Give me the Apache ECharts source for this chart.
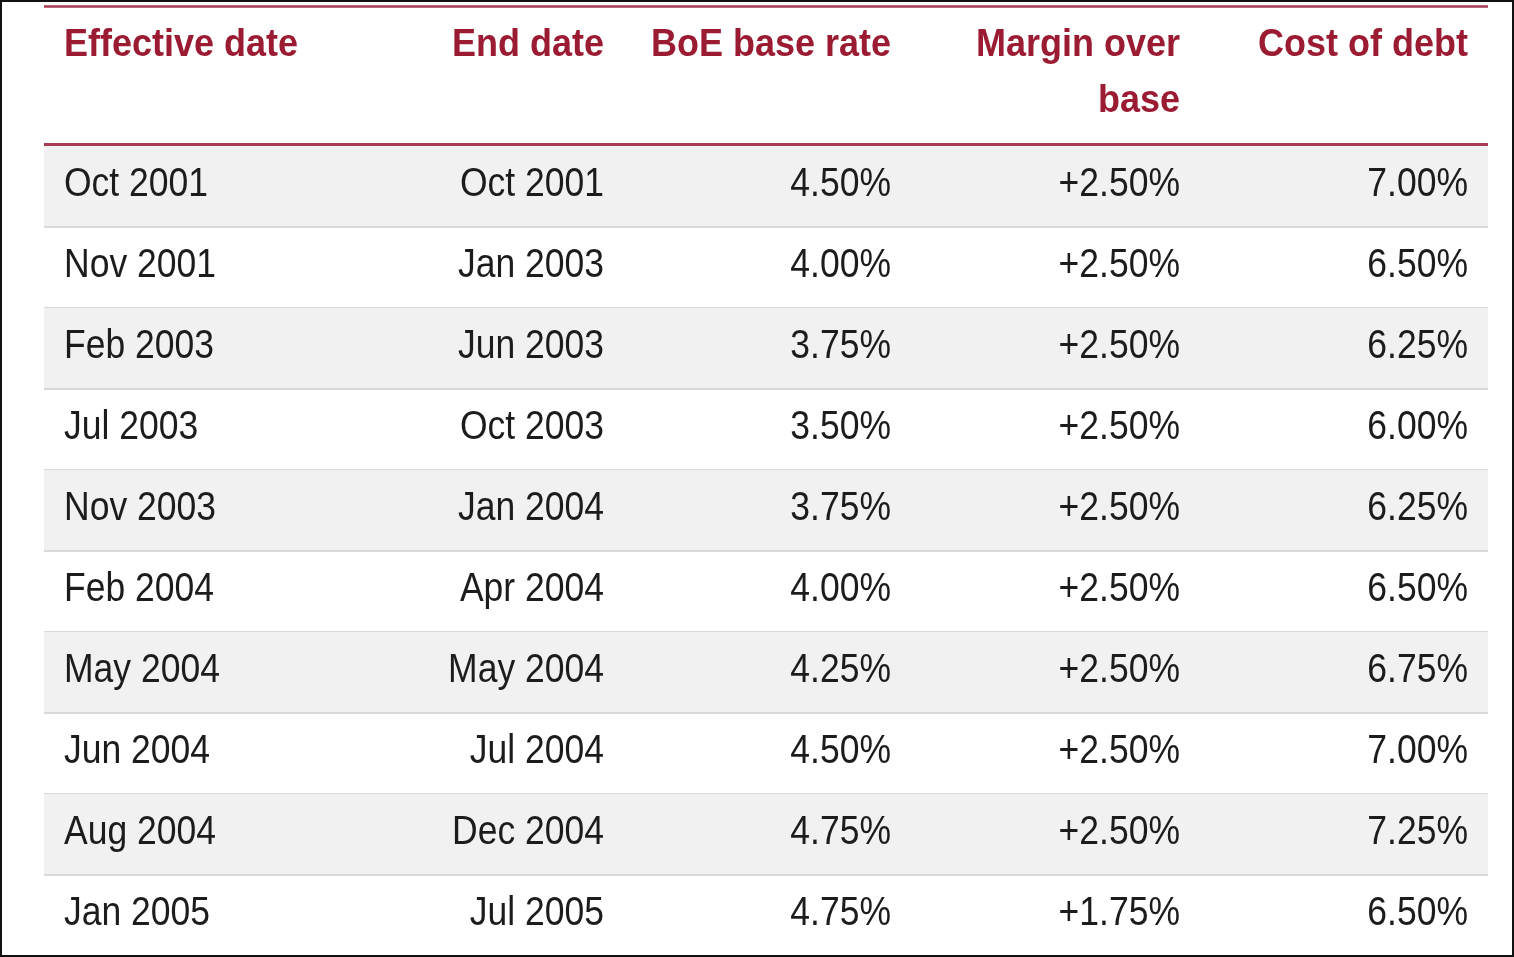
<!DOCTYPE html>
<html>
<head>
<meta charset="utf-8">
<script src="https://cdn.jsdelivr.net/npm/echarts@6/dist/echarts.min.js"></script>
<style>
html,body{margin:0;padding:0;background:#fff;}
#chart{width:1514px;height:957px;}
</style>
</head>
<body>
<div id="chart"></div>
<script>
// ---- data ----
const headers = ['Effective date', 'End date', 'BoE base rate', 'Margin over\nbase', 'Cost of debt'];
const effectiveDates = ['Oct 2001','Nov 2001','Feb 2003','Jul 2003','Nov 2003','Feb 2004','May 2004','Jun 2004','Aug 2004','Jan 2005'];
const endDates = ['Oct 2001','Jan 2003','Jun 2003','Oct 2003','Jan 2004','Apr 2004','May 2004','Jul 2004','Dec 2004','Jul 2005'];
const baseRates = [4.50, 4.00, 3.75, 3.50, 3.75, 4.00, 4.25, 4.50, 4.75, 4.75];
const margins = [2.50, 2.50, 2.50, 2.50, 2.50, 2.50, 2.50, 2.50, 2.50, 1.75];
const costs = [7.00, 6.50, 6.25, 6.00, 6.25, 6.50, 6.75, 7.00, 7.25, 6.50];

// ---- layout/style ----
const FONT = '"Liberation Sans", Arial, sans-serif';
const HEAD_COLOR = '#9b1b32';
const RULE_COLOR = '#a83a53';
const BODY_COLOR = '#1c1c1c';
const GRID_LEFT = 44, GRID_RIGHT = 1488, GRID_TOP = 146, ROW_H = 81;
// column anchors (offsets from grid left) and alignments
const colX = [20, 560, 847, 1136, 1424];
const colAlign = ['left', 'right', 'right', 'right', 'right'];
const BODY_SIZE = 35.5, BODY_SCALE = 1.14;
const HEAD_SIZE = 36, HEAD_SCALE = 1.06;

const pct = v => v.toFixed(2) + '%';
const rowCells = i => [effectiveDates[i], endDates[i], pct(baseRates[i]), '+' + pct(margins[i]), pct(costs[i])];

const chart = echarts.init(document.getElementById('chart'), null, {renderer: 'canvas'});

const headerGraphics = [];
headers.forEach((h, c) => {
  h.split('\n').forEach((line, k) => {
    headerGraphics.push({
      type: 'text',
      x: GRID_LEFT + colX[c],
      y: 45 + k * 56,
      scaleY: HEAD_SCALE,
      style: {
        text: line, x: 0, y: 0,
        align: colAlign[c], verticalAlign: 'middle',
        fontFamily: FONT, fontSize: HEAD_SIZE, fontWeight: 'bold',
        fill: HEAD_COLOR
      }
    });
  });
});

const option = {
  animation: false,
  backgroundColor: '#ffffff',
  grid: {left: GRID_LEFT, right: 1514 - GRID_RIGHT, top: GRID_TOP, height: ROW_H * effectiveDates.length},
  xAxis: {type: 'value', min: 0, max: 1, show: false},
  yAxis: {type: 'category', data: effectiveDates, inverse: true, show: false, boundaryGap: true},
  graphic: [
    {type: 'rect', shape: {x: 1, y: 1, width: 1512, height: 955}, style: {fill: 'none', stroke: '#111', lineWidth: 2}, z: 100},
    {type: 'line', shape: {x1: GRID_LEFT, y1: 6.5, x2: GRID_RIGHT, y2: 6.5}, style: {stroke: RULE_COLOR, lineWidth: 2.5}},
    {type: 'line', shape: {x1: GRID_LEFT, y1: 144.5, x2: GRID_RIGHT, y2: 144.5}, style: {stroke: RULE_COLOR, lineWidth: 3}},
    ...headerGraphics
  ],
  series: [{
    type: 'custom',
    coordinateSystem: 'cartesian2d',
    encode: {x: 0, y: 1},
    data: effectiveDates.map((d, i) => [0, i]),
    renderItem: function (params, api) {
      const r = api.value(1);
      const p0 = api.coord([0, r]);
      const p1 = api.coord([1, r]);
      const h = api.size([0, 1])[1];
      const top = p0[1] - h / 2;
      const children = [];
      if (r % 2 === 0) {
        children.push({type: 'rect', shape: {x: p0[0], y: top, width: p1[0] - p0[0], height: h}, style: {fill: '#f1f1f1'}});
      }
      if (r < effectiveDates.length - 1) {
        children.push({type: 'line', shape: {x1: p0[0], y1: top + h, x2: p1[0], y2: top + h}, style: {stroke: '#d9d9d9', lineWidth: 2}});
      }
      const cells = rowCells(r);
      cells.forEach((t, c) => {
        children.push({
          type: 'text',
          x: p0[0] + colX[c],
          y: p0[1] - 2,
          scaleY: BODY_SCALE,
          style: {
            text: t, x: 0, y: 0,
            align: colAlign[c], verticalAlign: 'middle',
            fontFamily: FONT, fontSize: BODY_SIZE, fill: BODY_COLOR
          }
        });
      });
      return {type: 'group', children: children};
    }
  }]
};
chart.setOption(option);
</script>
</body>
</html>
